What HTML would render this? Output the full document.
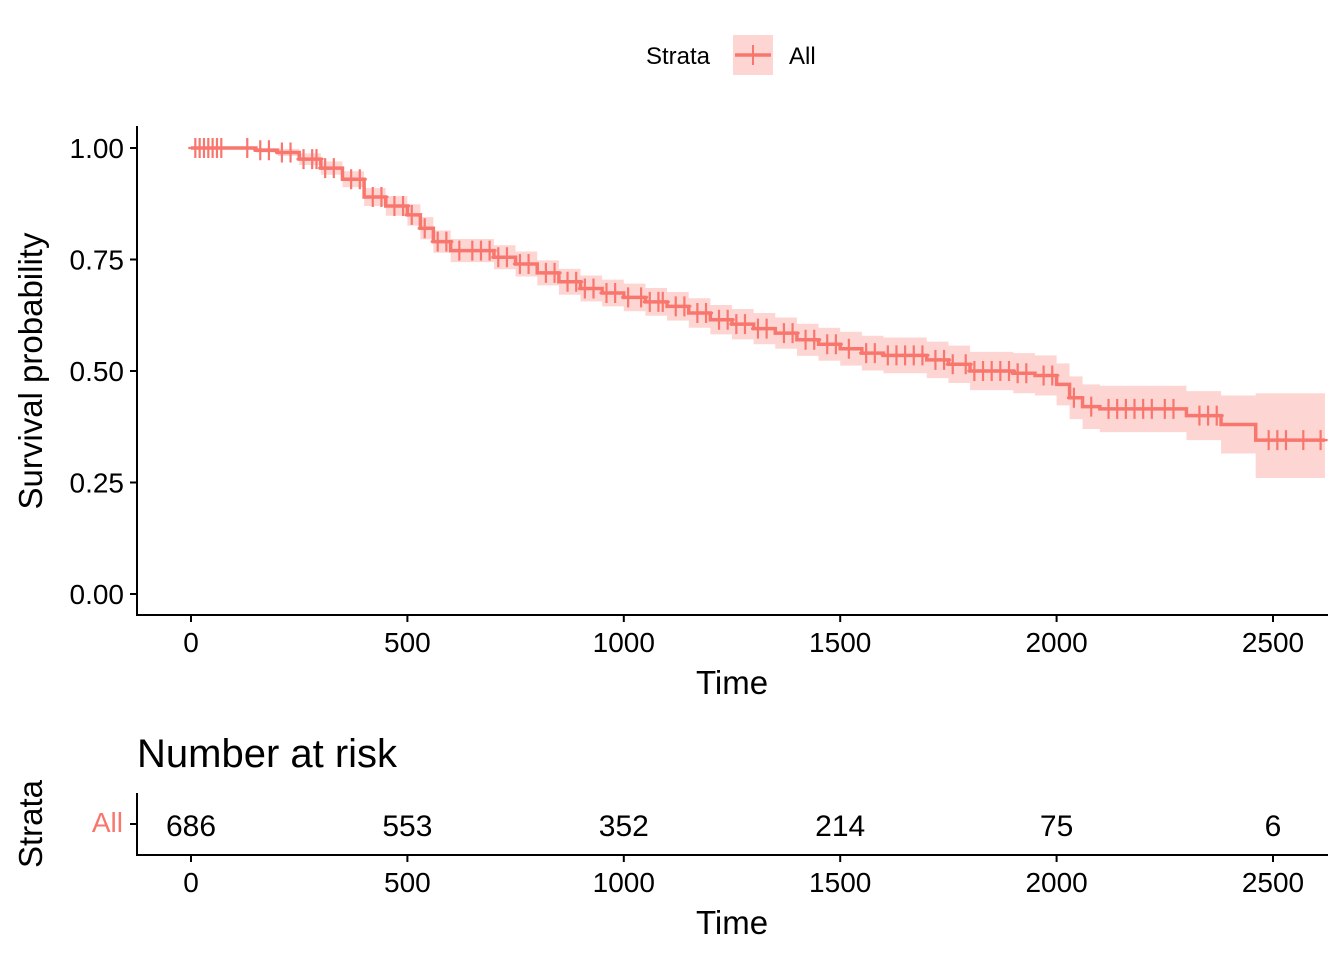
<!DOCTYPE html>
<html><head><meta charset="utf-8"><style>
body{margin:0;background:#fff}
svg text{font-family:"Liberation Sans",Arial,sans-serif}
</style></head><body>
<svg id="c" width="1344" height="960" xmlns="http://www.w3.org/2000/svg">
<g>
<text x="646" y="64" font-size="24">Strata</text>
<rect x="733" y="35" width="40" height="40" fill="#F8766D" fill-opacity="0.3"/>
<line x1="735" y1="55" x2="771" y2="55" stroke="#F8766D" stroke-width="3.5"/>
<line x1="753" y1="45" x2="753" y2="65" stroke="#F8766D" stroke-width="2"/>
<text x="789" y="64" font-size="24">All</text>
</g>
<g id="plot"></g>
<text transform="translate(42,371) rotate(-90)" text-anchor="middle" font-size="33">Survival probability</text>
<text x="732" y="694" text-anchor="middle" font-size="33">Time</text>
<text x="137" y="767" font-size="40">Number at risk</text>
<text transform="translate(42,824) rotate(-90)" text-anchor="middle" font-size="33">Strata</text>
<text x="123" y="832" text-anchor="end" font-size="28" fill="#F8766D">All</text>
<text x="732" y="934" text-anchor="middle" font-size="33">Time</text>
<g id="risk"></g>
</svg>
<script>
const times=[0,100,150,200,250,300,350,400,450,500,530,560,600,700,750,800,850,900,950,1000,1050,1100,1150,1200,1250,1300,1350,1400,1450,1500,1550,1600,1700,1750,1800,1900,1950,2000,2030,2060,2100,2300,2380,2460];
const surv=[1,1,0.995,0.99,0.975,0.955,0.93,0.89,0.87,0.85,0.82,0.79,0.77,0.755,0.74,0.72,0.70,0.685,0.675,0.665,0.655,0.645,0.63,0.615,0.605,0.595,0.585,0.57,0.56,0.55,0.54,0.535,0.525,0.515,0.50,0.495,0.49,0.47,0.44,0.42,0.415,0.40,0.38,0.345];
const lower=[1,1,0.99,0.982,0.962,0.94,0.912,0.87,0.848,0.826,0.795,0.765,0.744,0.728,0.712,0.692,0.671,0.656,0.645,0.634,0.624,0.613,0.597,0.582,0.571,0.56,0.55,0.534,0.523,0.512,0.501,0.495,0.484,0.473,0.457,0.45,0.445,0.423,0.392,0.37,0.363,0.345,0.315,0.26];
const upper=[1,1,1,0.998,0.988,0.97,0.948,0.91,0.892,0.874,0.845,0.815,0.796,0.782,0.768,0.748,0.729,0.714,0.705,0.696,0.686,0.677,0.663,0.648,0.639,0.63,0.62,0.606,0.597,0.588,0.579,0.575,0.566,0.557,0.543,0.54,0.535,0.517,0.488,0.47,0.467,0.455,0.445,0.45];
const censorT=[10,20,30,40,50,60,70,130,160,180,210,230,260,280,290,310,330,370,390,420,440,470,490,510,540,570,590,620,650,670,690,710,730,760,780,820,840,870,890,910,930,960,980,1010,1040,1060,1080,1090,1120,1140,1170,1190,1220,1240,1260,1280,1310,1330,1370,1390,1420,1440,1470,1490,1520,1560,1580,1610,1630,1650,1670,1690,1720,1740,1760,1790,1810,1830,1850,1870,1890,1910,1930,1970,1990,2040,2080,2120,2140,2160,2180,2200,2220,2250,2270,2330,2350,2370,2490,2510,2530,2570,2610];
const xTicks=[0,500,1000,1500,2000,2500];
const yTicks=[0,0.25,0.5,0.75,1];
const yTickLabels=["0.00","0.25","0.50","0.75","1.00"];
const riskTimes=[0,500,1000,1500,2000,2500];
const riskCounts=[686,553,352,214,75,6];
const tMax=2620;
const X=t=>191+t*(1273-191)/2500;
const Y=s=>594-s*446;
const NS="http://www.w3.org/2000/svg";
function mk(p,tag,a){const e=document.createElementNS(NS,tag);for(const k in a)e.setAttribute(k,a[k]);p.appendChild(e);return e;}
const g=document.getElementById('plot');
function sAt(t){let s=surv[0];for(let i=0;i<times.length;i++)if(times[i]<=t)s=surv[i];return s;}
let up="",lo="";
for(let i=0;i<times.length;i++){const t1=i+1<times.length?times[i+1]:tMax;
up+=(i?"L":"M")+X(times[i])+","+Y(upper[i])+"L"+X(t1)+","+Y(upper[i]);
lo=" L"+X(t1)+","+Y(lower[i])+" L"+X(times[i])+","+Y(lower[i])+lo;}
const rib=mk(g,'path',{d:up+lo+"Z",fill:"#F8766D","fill-opacity":"0.3",stroke:"none"});


let d="";
for(let i=0;i<times.length;i++){const t1=i+1<times.length?times[i+1]:tMax;
d+=(i?"L":"M")+X(times[i])+","+Y(surv[i])+"L"+X(t1)+","+Y(surv[i]);}
const ln=mk(g,'path',{d:d,fill:"none",stroke:"#F8766D","stroke-width":3.5});


censorT.forEach(t=>{const x=X(t),y=Y(sAt(t));
const m=mk(g,'path',{d:`M${x},${y-10}V${y+10}M${x-7},${y}H${x+7}`,stroke:"#F8766D","stroke-width":2.2});

});
const ax=mk(g,'path',{d:"M137,126V615H1328",fill:"none",stroke:"#000","stroke-width":2});


yTicks.forEach((v,i)=>{mk(g,'line',{x1:130,x2:137,y1:Y(v),y2:Y(v),stroke:"#000","stroke-width":2});
const t=mk(g,'text',{x:124,y:Y(v)+10,"text-anchor":"end","font-size":28});t.textContent=yTickLabels[i];

});
xTicks.forEach(v=>{mk(g,'line',{x1:X(v),x2:X(v),y1:615,y2:622,stroke:"#000","stroke-width":2});
const t=mk(g,'text',{x:X(v),y:652,"text-anchor":"middle","font-size":28});t.textContent=v;

});
const r=document.getElementById('risk');
const rax=mk(r,'path',{d:"M137,793V855H1328",fill:"none",stroke:"#000","stroke-width":2});


mk(r,'line',{x1:130,x2:137,y1:824,y2:824,stroke:"#000","stroke-width":2});
xTicks.forEach(v=>{mk(r,'line',{x1:X(v),x2:X(v),y1:855,y2:862,stroke:"#000","stroke-width":2});
const t=mk(r,'text',{x:X(v),y:892,"text-anchor":"middle","font-size":28});t.textContent=v;

});
riskTimes.forEach((v,i)=>{const t=mk(r,'text',{x:X(v),y:836,"text-anchor":"middle","font-size":30});t.textContent=riskCounts[i];

});
</script>
</body></html>
